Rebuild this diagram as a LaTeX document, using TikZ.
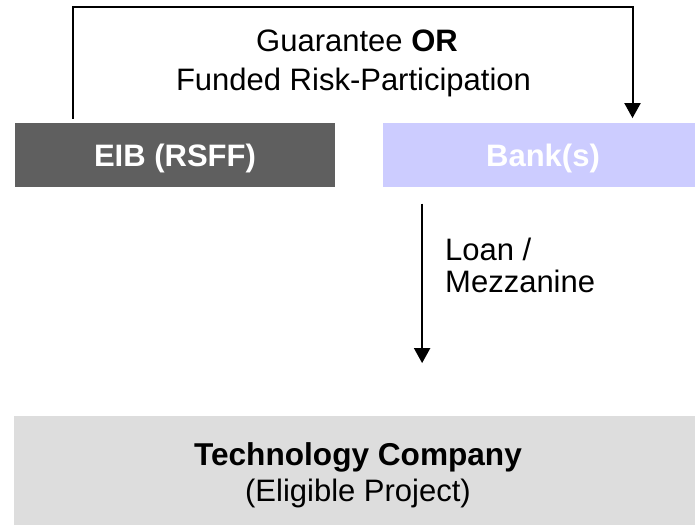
\documentclass[tikz,border=0pt]{standalone}
\usepackage{fontspec}
\setmainfont{Liberation Sans}
\usetikzlibrary{arrows.meta}
\definecolor{eibgray}{HTML}{5F5F5F}
\definecolor{banklav}{HTML}{CCCCFF}
\definecolor{techgray}{HTML}{DDDDDD}
\tikzset{
  topbox/.style={rectangle, inner sep=0pt, minimum width=320pt, minimum height=64pt,
    text height=24pt, text depth=0pt, text=white,
    font=\fontsize{31}{37}\selectfont\bfseries},
  techbox/.style={rectangle, inner sep=0pt, fill=techgray, minimum width=688pt, minimum height=114pt},
  plainlbl/.style={inner sep=0pt, anchor=base, font=\fontsize{31}{37}\selectfont},
  boldlbl/.style={inner sep=0pt, anchor=base, font=\fontsize{31.6}{37}\selectfont\bfseries},
  conn/.style={line width=2pt, -{Triangle[width=16pt,length=15pt]}},
}
\begin{document}
\begin{tikzpicture}[x=1pt,y=-1pt]
\useasboundingbox (0,0) rectangle (695,524);
\fill[white] (0,0) rectangle (695,524);
% boxes
\node[topbox, fill=eibgray] (eib) at (175,154.7) {EIB (RSFF)};
\node[topbox, fill=banklav] (bank) at (543,154.7) {Bank(s)};
\node[techbox] (tech) at (358,473) {};
\node[boldlbl] (techname) at (358,465) {Technology Company};
\node[plainlbl] (techsub) at (358,501.7) {(Eligible Project)};
% top connector
\draw[conn] ([xshift=58pt,yshift=3.7pt]eib.north west) -- ++(0,-112) -| ([xshift=249.7pt,yshift=4.4pt]bank.north west);
\node[plainlbl] (g1) at (357,51.7) {Guarantee \textbf{OR}};
\node[plainlbl] (g2) at (353.5,91) {Funded Risk-Participation};
% loan connector
\draw[conn] ([xshift=39.3pt,yshift=-16.6pt]bank.south west) -- ([xshift=408.3pt,yshift=52.7pt]tech.north west);
\node[plainlbl, anchor=base west] (l1) at (445,260.7) {Loan /};
\node[plainlbl, anchor=base west] (l2) at (445,292.7) {Mezzanine};
\end{tikzpicture}
\end{document}
